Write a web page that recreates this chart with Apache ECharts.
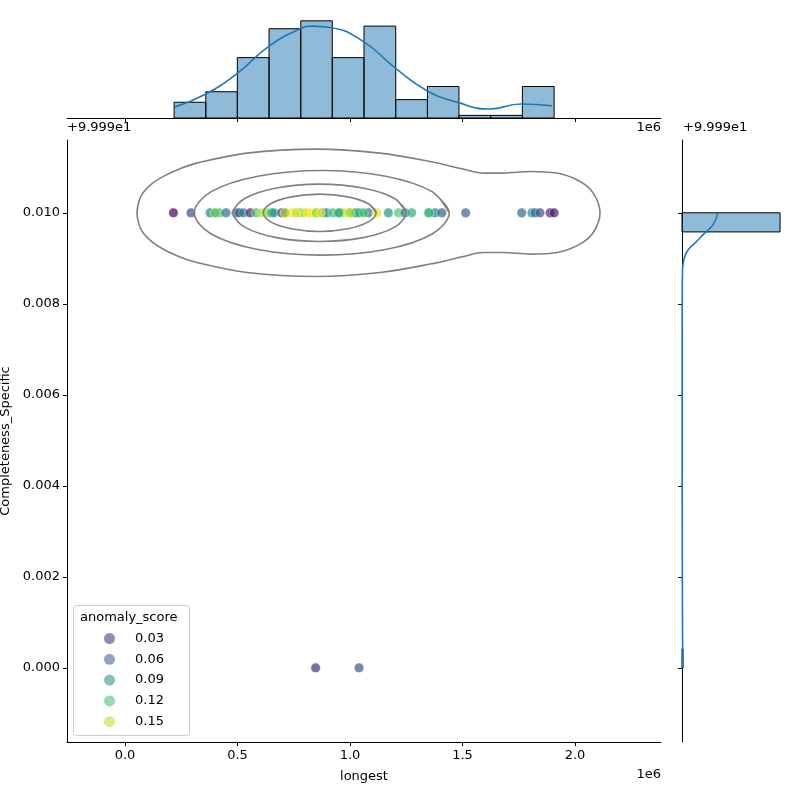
<!DOCTYPE html>
<html>
<head>
<meta charset="utf-8">
<script src="https://cdn.jsdelivr.net/npm/echarts@6/dist/echarts.min.js"></script>
<style>
  html, body { margin: 0; padding: 0; background: #fff; }
  #chart { width: 800px; height: 800px; }
</style>
</head>
<body>
<div id="chart"></div>
<script>
// data (longest in units of 1e6, Completeness_Specific minus 99.99)
var longestVals = [0.215, 0.293, 0.378, 0.404, 0.419, 0.449, 0.493, 0.508, 0.526, 0.556,
  0.582, 0.608, 0.630, 0.652, 0.662, 0.696, 0.711, 0.741, 0.763, 0.778,
  0.796, 0.813, 0.830, 0.848, 0.879, 0.896, 0.923, 0.956, 0.969, 0.992,
  1.015, 1.027, 1.041, 1.081, 1.119, 1.170, 1.215, 1.244, 1.274, 1.348,
  1.378, 1.408, 1.514, 1.763, 1.808, 1.822, 1.844, 1.889, 1.907,
  0.400, 0.710, 0.760, 0.850, 0.870, 0.950, 1.000, 1.350, 1.060,
  0.847, 1.040];
var completenessVals = [0.010, 0.010, 0.010, 0.010, 0.010, 0.010, 0.010, 0.010, 0.010, 0.010,
  0.010, 0.010, 0.010, 0.010, 0.010, 0.010, 0.010, 0.010, 0.010, 0.010,
  0.010, 0.010, 0.010, 0.010, 0.010, 0.010, 0.010, 0.010, 0.010, 0.010,
  0.010, 0.010, 0.010, 0.010, 0.010, 0.010, 0.010, 0.010, 0.010, 0.010,
  0.010, 0.010, 0.010, 0.010, 0.010, 0.010, 0.010, 0.010, 0.010,
  0.010, 0.010, 0.010, 0.010, 0.010, 0.010, 0.010, 0.010, 0.010,
  0.000, 0.000];
var scoreVals = [0.015, 0.05, 0.085, 0.11, 0.12, 0.07, 0.06, 0.055, 0.08, 0.03,
  0.12, 0.15, 0.14, 0.09, 0.10, 0.04, 0.045, 0.16, 0.12, 0.13,
  0.15, 0.16, 0.165, 0.16, 0.09, 0.085, 0.12, 0.12, 0.15, 0.16,
  0.155, 0.09, 0.11, 0.075, 0.16, 0.09, 0.125, 0.07, 0.11, 0.125,
  0.08, 0.06, 0.06, 0.065, 0.085, 0.075, 0.05, 0.03, 0.025,
  0.13, 0.15, 0.17, 0.14, 0.16, 0.10, 0.14, 0.11, 0.12,
  0.035, 0.055];

var legendLabels = ['0.03', '0.06', '0.09', '0.12', '0.15'];
var legendColors = ['rgba(72,40,120,0.7)', 'rgba(53,95,141,0.7)', 'rgba(33,145,140,0.7)', 'rgba(68,191,112,0.7)', 'rgba(189,223,38,0.7)'];

// top marginal histogram
var xBinEdges = [0.218, 0.359, 0.499, 0.640, 0.781, 0.921, 1.062, 1.203, 1.344, 1.484, 1.625, 1.766, 1.907];
var xBinCounts = [6, 10, 23, 34, 37, 23, 35, 7, 12, 1, 1, 12];
var xKde = [[0.217, 4.05], [0.359, 9.16], [0.497, 16.9], [0.639, 27.3], [0.779, 34.0], [0.831, 35.0],
  [0.917, 34.4], [1.058, 29.2], [1.200, 19.1], [1.340, 10.5], [1.478, 5.95], [1.620, 3.44],
  [1.760, 5.34], [1.898, 4.69]];

// right marginal histogram
var yBinLow = [0.0, 0.00958];
var yBinHigh = [0.00042, 0.0100];
var yBinCounts = [2, 199];
var yKde = [[72.7, 0.0100], [63, 0.00974], [43, 0.00952], [23, 0.00930], [12.7, 0.00919], [6, 0.00905],
  [2.5, 0.0089], [1, 0.0087], [0.5, 0.0083], [0.3, 0.006], [0.5, 0.003], [1, 0.001], [1.5, 0.0]];

// joint kde contours
var contourOuter = [[0.053, 0.0100], [0.062, 0.01026], [0.080, 0.01044], [0.120, 0.01064], [0.170, 0.01080],
  [0.244, 0.01097], [0.319, 0.011092], [0.541, 0.011312],
  [0.852, 0.011400], [1.133, 0.011312], [1.356, 0.011127], [1.504, 0.010960], [1.592, 0.010873],
  [1.681, 0.010873], [1.800, 0.010908], [1.919, 0.010873], [2.022, 0.010688], [2.081, 0.010433],
  [2.111, 0.0100], [2.081, 0.009567], [2.022, 0.009312], [1.919, 0.009127], [1.800, 0.009092],
  [1.681, 0.009127], [1.592, 0.009127], [1.504, 0.009040], [1.356, 0.008873], [1.133, 0.008688],
  [0.852, 0.008600], [0.541, 0.008688], [0.319, 0.008908], [0.244, 0.00903], [0.170, 0.00920],
  [0.120, 0.00936], [0.080, 0.00956], [0.062, 0.00974], [0.053, 0.0100], [0.062, 0.01026]];
var contour2 = [[1.441, 0.0100], [1.365, 0.010465], [1.158, 0.010805], [0.874, 0.01093], [0.590, 0.010805],
  [0.383, 0.010465], [0.307, 0.0100], [0.383, 0.009535], [0.590, 0.009195], [0.874, 0.00907],
  [1.158, 0.009195], [1.365, 0.009535], [1.441, 0.0100], [1.365, 0.010465]];
var contour3 = [[1.249, 0.0100], [1.198, 0.010315], [1.057, 0.010546], [0.865, 0.01063], [0.673, 0.010546],
  [0.532, 0.010315], [0.481, 0.0100], [0.532, 0.009685], [0.673, 0.009454], [0.865, 0.00937],
  [1.057, 0.009454], [1.198, 0.009685], [1.249, 0.0100], [1.198, 0.010315]];
var contour4 = [[1.116, 0.0100], [1.081, 0.01020], [0.990, 0.01035], [0.864, 0.01041], [0.739, 0.01035],
  [0.647, 0.01020], [0.613, 0.0100], [0.647, 0.00980], [0.739, 0.00965], [0.864, 0.00959],
  [0.990, 0.00965], [1.081, 0.00980], [1.116, 0.0100], [1.081, 0.01020]];

var xTicks = [0, 0.5, 1.0, 1.5, 2.0];
var yTicks = [0, 0.002, 0.004, 0.006, 0.008, 0.010];

var font = 'DejaVu Sans';
var histFill = 'rgba(31,119,180,0.5)';
var blue = '#1f77b4';

var points = [];
for (var i = 0; i < longestVals.length; i++) {
  points.push([longestVals[i], completenessVals[i], scoreVals[i]]);
}
var xHist = [];
for (var i = 0; i < xBinCounts.length; i++) {
  xHist.push([xBinEdges[i], xBinEdges[i + 1], xBinCounts[i]]);
}
var yHist = [];
for (var i = 0; i < yBinCounts.length; i++) {
  yHist.push([yBinLow[i], yBinHigh[i], yBinCounts[i]]);
}

var chart = echarts.init(document.getElementById('chart'));

function contourSeries (name, data) {
  return {
    name: name,
    type: 'line',
    xAxisIndex: 0,
    yAxisIndex: 0,
    data: data,
    smooth: 0.35,
    showSymbol: false,
    symbol: 'none',
    lineStyle: { color: '#808080', width: 1.6 },
    silent: true,
    z: 5
  };
}

var series = [
  {
    name: 'points',
    type: 'scatter',
    xAxisIndex: 0,
    yAxisIndex: 0,
    data: points,
    symbolSize: 9.5,
    itemStyle: { opacity: 0.7, borderColor: '#fff', borderWidth: 0.5 },
    z: 3
  },
  contourSeries('c1', contourOuter),
  contourSeries('c2', contour2),
  contourSeries('c3', contour3),
  contourSeries('c4', contour4),
  {
    name: 'xhist',
    type: 'custom',
    xAxisIndex: 1,
    yAxisIndex: 1,
    data: xHist,
    renderItem: function (params, api) {
      var p0 = api.coord([api.value(0), 0]);
      var p1 = api.coord([api.value(1), api.value(2)]);
      return {
        type: 'rect',
        shape: { x: p0[0], y: p1[1], width: p1[0] - p0[0], height: p0[1] - p1[1] },
        style: { fill: histFill, stroke: '#000', lineWidth: 1 }
      };
    }
  },
  {
    name: 'xkde',
    type: 'line',
    xAxisIndex: 1,
    yAxisIndex: 1,
    data: xKde,
    smooth: true,
    symbol: 'none',
    lineStyle: { color: blue, width: 1.6 },
    z: 5
  },
  {
    name: 'yhist',
    type: 'custom',
    xAxisIndex: 2,
    yAxisIndex: 2,
    data: yHist,
    renderItem: function (params, api) {
      var p0 = api.coord([0, api.value(0)]);
      var p1 = api.coord([api.value(2), api.value(1)]);
      return {
        type: 'rect',
        shape: { x: p0[0], y: p1[1], width: p1[0] - p0[0], height: p0[1] - p1[1] },
        style: { fill: histFill, stroke: '#000', lineWidth: 1 }
      };
    }
  },
  {
    name: 'ykde',
    type: 'line',
    xAxisIndex: 2,
    yAxisIndex: 2,
    data: yKde,
    smooth: true,
    symbol: 'none',
    lineStyle: { color: blue, width: 1.6 },
    z: 5
  }
];
// legend-only series
legendLabels.forEach(function (lab, k) {
  series.push({
    name: lab,
    type: 'scatter',
    xAxisIndex: 0,
    yAxisIndex: 0,
    data: [],
    itemStyle: { color: legendColors[k] }
  });
});

var axisLineBlack = { show: true, onZero: false, lineStyle: { color: '#000', width: 1 } };

var option = {
  animation: false,
  backgroundColor: '#fff',
  textStyle: { fontFamily: font },
  grid: [
    { left: 67, top: 140, width: 594, height: 602, containLabel: false, outerBoundsMode: 'none' },
    { left: 67, top: 16, width: 594, height: 102, containLabel: false, outerBoundsMode: 'none' },
    { left: 682, top: 140, width: 103, height: 602, containLabel: false, outerBoundsMode: 'none' }
  ],
  xAxis: [
    {
      gridIndex: 0, type: 'value', min: -0.258, max: 2.382,
      name: 'longest', nameLocation: 'middle', nameGap: 28,
      nameTextStyle: { color: '#000', fontSize: 13, fontFamily: font },
      axisLine: axisLineBlack,
      axisTick: { show: true, length: 4, lineStyle: { color: '#000' }, customValues: xTicks },
      axisLabel: { color: '#000', fontSize: 13, fontFamily: font, margin: 7, customValues: xTicks,
        formatter: function (v) { return v.toFixed(1); } },
      splitLine: { show: false }
    },
    {
      gridIndex: 1, type: 'value', min: -0.258, max: 2.382,
      axisLine: axisLineBlack,
      axisTick: { show: true, length: 4, lineStyle: { color: '#000' }, customValues: xTicks },
      axisLabel: { show: false },
      splitLine: { show: false }
    },
    {
      gridIndex: 2, type: 'value', min: 0, max: 209,
      axisLine: { show: false }, axisTick: { show: false }, axisLabel: { show: false },
      splitLine: { show: false }
    }
  ],
  yAxis: [
    {
      gridIndex: 0, type: 'value', min: -0.00163, max: 0.0116,
      name: 'Completeness_Specific', nameLocation: 'middle', nameGap: 55,
      nameTextStyle: { color: '#000', fontSize: 13, fontFamily: font },
      axisLine: axisLineBlack,
      axisTick: { show: true, length: 4, lineStyle: { color: '#000' }, customValues: yTicks },
      axisLabel: { color: '#000', fontSize: 13, fontFamily: font, margin: 7, customValues: yTicks,
        formatter: function (v) { return v.toFixed(3); } },
      splitLine: { show: false }
    },
    {
      gridIndex: 1, type: 'value', min: 0, max: 38.85,
      axisLine: { show: false }, axisTick: { show: false }, axisLabel: { show: false },
      splitLine: { show: false }
    },
    {
      gridIndex: 2, type: 'value', min: -0.00163, max: 0.0116,
      axisLine: axisLineBlack,
      axisTick: { show: true, length: 4, lineStyle: { color: '#000' }, customValues: yTicks },
      axisLabel: { show: false },
      splitLine: { show: false }
    }
  ],
  visualMap: {
    show: false,
    type: 'continuous',
    seriesIndex: 0,
    dimension: 2,
    min: 0.015,
    max: 0.165,
    inRange: {
      color: ['#440154', '#482475', '#414487', '#355f8d', '#2a788e', '#21918c',
        '#22a884', '#44bf70', '#7ad151', '#bddf26', '#fde725']
    }
  },
  legend: {
    data: legendLabels,
    orient: 'vertical',
    left: 99,
    top: 627,
    icon: 'circle',
    itemWidth: 11,
    itemHeight: 11,
    itemGap: 7.8,
    selectedMode: false,
    textStyle: { color: '#000', fontSize: 13, fontFamily: font, padding: [0, 0, 0, 15] },
    z: 20
  },
  graphic: [
    {
      type: 'rect', left: 73, top: 605, z: 10,
      shape: { width: 116, height: 130, r: 3 },
      style: { fill: 'rgba(255,255,255,0.8)', stroke: '#cccccc', lineWidth: 1 }
    },
    {
      type: 'text', left: 80, top: 611, z: 11,
      style: { text: 'anomaly_score', fill: '#000', font: '13px "DejaVu Sans"' }
    },
    {
      type: 'text', left: 67, top: 121,
      style: { text: '+9.999e1', fill: '#000', font: '13px "DejaVu Sans"' }
    },
    {
      type: 'text', right: 139, top: 121,
      style: { text: '1e6', fill: '#000', font: '13px "DejaVu Sans"' }
    },
    {
      type: 'text', left: 683, top: 121,
      style: { text: '+9.999e1', fill: '#000', font: '13px "DejaVu Sans"' }
    },
    {
      type: 'text', right: 139, top: 768,
      style: { text: '1e6', fill: '#000', font: '13px "DejaVu Sans"' }
    }
  ],
  series: series
};

chart.setOption(option);
</script>
</body>
</html>
